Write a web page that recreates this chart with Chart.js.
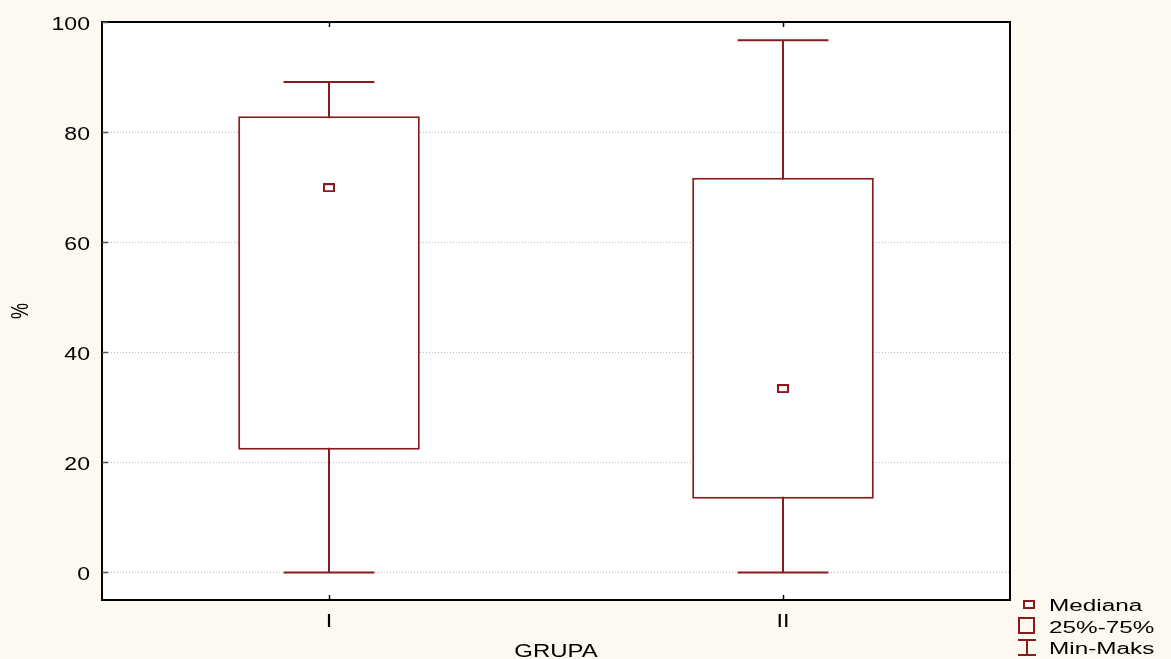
<!DOCTYPE html>
<html><head><meta charset="utf-8">
<script src="https://cdn.jsdelivr.net/npm/chart.js@4.4.1/dist/chart.umd.min.js"></script>
<style>html,body{margin:0;padding:0;background:#fdf9f1;}#wrap{width:1171px;height:659px;position:relative;}</style>
</head><body><div id="wrap"><canvas id="c" width="1171" height="659"></canvas></div>
<script>
const categories = ["I", "II"];
const minVals = [0, 0];
const q1Vals = [22.3, 13.4];
const medianVals = [69.9, 33.4];
const q3Vals = [82.9, 71.7];
const maxVals = [89.1, 96.7];
const yTicks = [0, 20, 40, 60, 80, 100];
const legendLabels = ["Mediana", "25%-75%", "Min-Maks"];
const xTitle = "GRUPA";
const yTitle = "%";

const RED = '#8b1a1f';
const FONT = "'Liberation Sans', Arial, sans-serif";

// median marker image (slightly wide rectangle, as in the reference)
const medImg = document.createElement('canvas');
medImg.width = 12; medImg.height = 9;
(function () {
  const g = medImg.getContext('2d');
  g.fillStyle = '#fff'; g.fillRect(0, 0, 12, 9);
  g.strokeStyle = RED; g.lineWidth = 2;
  g.strokeRect(1, 1, 10, 7);
})();

function stretchText(ctx, text, x, y, size, sx, align, rotate) {
  ctx.save();
  ctx.font = size + 'px ' + FONT;
  ctx.fillStyle = '#000';
  ctx.textAlign = align || 'left';
  ctx.textBaseline = 'alphabetic';
  ctx.translate(x, y);
  ctx.scale(sx, 1);
  if (rotate) ctx.rotate(rotate);
  ctx.fillText(text, 0, 0);
  ctx.restore();
}

const framePlugin = {
  id: 'frame',
  beforeDraw(chart) {
    const {ctx, chartArea: a} = chart;
    ctx.save();
    ctx.fillStyle = '#ffffff';
    ctx.fillRect(a.left, a.top, a.right - a.left, a.bottom - a.top);
    ctx.restore();
  },
  beforeDatasetsDraw(chart) {
    const {ctx} = chart;
    const x = chart.scales.x, y = chart.scales.y;
    ctx.save();
    ctx.strokeStyle = RED;
    ctx.lineWidth = 2;
    categories.forEach((c, i) => {
      const cx = x.getPixelForValue(i);
      const half = x.getPixelForValue(0.5) - x.getPixelForValue(0);
      const capW = half * 0.2;
      const yMin = y.getPixelForValue(minVals[i]);
      const yMax = y.getPixelForValue(maxVals[i]);
      ctx.beginPath();
      ctx.moveTo(cx, yMin); ctx.lineTo(cx, yMax);
      ctx.moveTo(cx - capW, yMin); ctx.lineTo(cx + capW, yMin);
      ctx.moveTo(cx - capW, yMax); ctx.lineTo(cx + capW, yMax);
      ctx.stroke();
    });
    ctx.restore();
  },
  afterDraw(chart) {
    const {ctx, chartArea: a} = chart;
    const x = chart.scales.x, y = chart.scales.y;
    ctx.save();
    ctx.strokeStyle = '#000000';
    ctx.lineWidth = 2;
    ctx.strokeRect(a.left, a.top, a.right - a.left, a.bottom - a.top);
    ctx.lineWidth = 1.5;
    ctx.strokeStyle = '#555';
    ctx.beginPath();
    yTicks.forEach(v => {
      const py = Math.round(y.getPixelForValue(v)) + 0.5;
      ctx.moveTo(a.left, py); ctx.lineTo(a.left + 6, py);
    });
    ctx.stroke();
    ctx.strokeStyle = '#000';
    ctx.beginPath();
    categories.forEach((c, i) => {
      const px = Math.round(x.getPixelForValue(i)) + 0.5;
      ctx.moveTo(px, a.bottom); ctx.lineTo(px, a.bottom - 5);
      ctx.moveTo(px, a.top); ctx.lineTo(px, a.top + 5);
    });
    ctx.stroke();
    ctx.restore();

    // tick labels
    yTicks.forEach(v => {
      stretchText(ctx, String(v), 90, y.getPixelForValue(v) + 8, 18, 1.28, 'right');
    });
    categories.forEach((c, i) => {
      stretchText(ctx, c, x.getPixelForValue(i), 627, 18, 1.3, 'center');
    });
    // axis titles
    stretchText(ctx, xTitle, (a.left + a.right) / 2, 657, 18, 1.33, 'center');
    stretchText(ctx, yTitle, 28, (a.top + a.bottom) / 2, 18, 1.3, 'center', -Math.PI / 2);

    // legend
    ctx.save();
    ctx.strokeStyle = RED;
    ctx.lineWidth = 2;
    ctx.fillStyle = '#fff';
    ctx.fillRect(1024, 601, 10, 7);
    ctx.strokeRect(1024, 601, 10, 7);
    ctx.strokeRect(1019, 618, 15, 15);
    ctx.beginPath();
    ctx.moveTo(1027, 640); ctx.lineTo(1027, 655);
    ctx.moveTo(1018, 640); ctx.lineTo(1036, 640);
    ctx.moveTo(1018, 655); ctx.lineTo(1036, 655);
    ctx.stroke();
    ctx.restore();
    stretchText(ctx, legendLabels[0], 1049, 611, 16, 1.52, 'left');
    stretchText(ctx, legendLabels[1], 1049, 633, 16, 1.52, 'left');
    stretchText(ctx, legendLabels[2], 1049, 654, 16, 1.52, 'left');
  }
};

new Chart(document.getElementById('c'), {
  data: {
    labels: categories,
    datasets: [
      {
        type: 'bar',
        label: legendLabels[1],
        data: q1Vals.map((v, i) => [v, q3Vals[i]]),
        backgroundColor: '#ffffff',
        borderColor: RED,
        borderWidth: 2,
        borderSkipped: false,
        barPercentage: 0.4,
        categoryPercentage: 1.0,
        order: 2
      },
      {
        type: 'line',
        label: legendLabels[0],
        data: medianVals,
        showLine: false,
        pointStyle: medImg,
        pointRadius: 5,
        order: 1
      }
    ]
  },
  options: {
    responsive: false,
    animation: false,
    devicePixelRatio: 1,
    layout: { padding: { left: 0, right: 161, top: 22, bottom: 0 } },
    plugins: { legend: { display: false }, tooltip: { enabled: false } },
    scales: {
      x: {
        type: 'category',
        offset: true,
        grid: { display: false, drawTicks: false },
        border: { display: false },
        ticks: { display: false },
        afterFit(s) { s.height = 59; }
      },
      y: {
        min: -5, max: 100,
        afterBuildTicks(s) { s.ticks = yTicks.map(v => ({ value: v })); },
        grid: { color: '#bdbdbd', lineWidth: 1, drawTicks: false },
        border: { display: false, dash: [1, 2] },
        ticks: { display: false },
        afterFit(s) { s.width = 102; }
      }
    }
  },
  plugins: [framePlugin]
});
</script></body></html>
